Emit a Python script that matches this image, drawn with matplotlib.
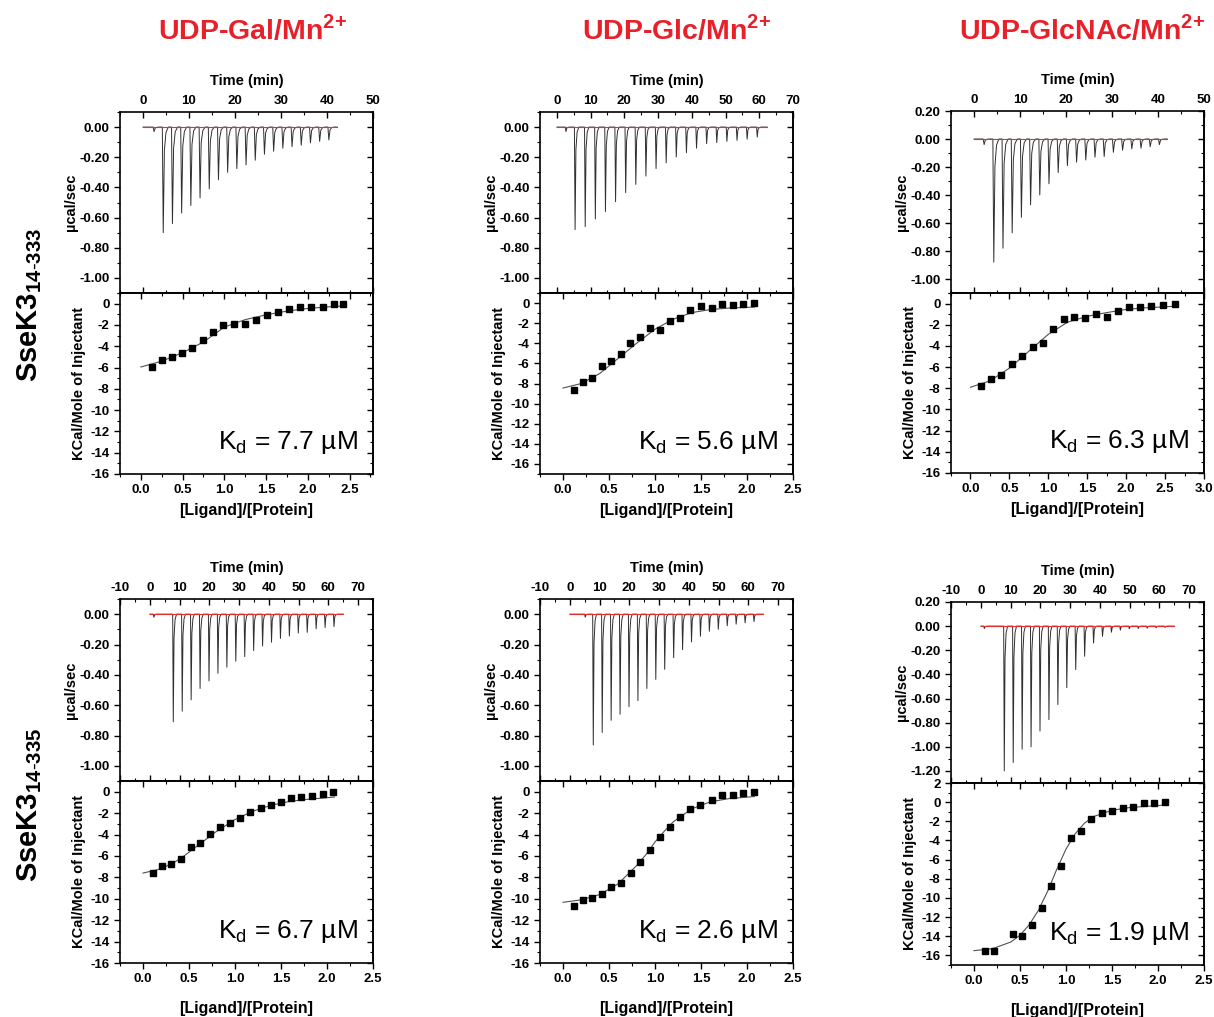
import matplotlib
matplotlib.use('Agg')
import matplotlib.pyplot as plt
from matplotlib.ticker import MultipleLocator, FormatStrFormatter

plt.rcParams['font.family'] = 'Liberation Sans'
plt.rcParams['font.weight'] = 'bold'
plt.rcParams['mathtext.fontset'] = 'custom'
plt.rcParams['mathtext.rm'] = 'Liberation Sans:normal'
plt.rcParams['mathtext.bf'] = 'Liberation Sans:bold'
plt.rcParams['axes.linewidth'] = 1.2
plt.rcParams['axes.unicode_minus'] = False

titles = ['UDP-Gal/Mn$^{\\mathbf{2{+}}}$', 'UDP-Glc/Mn$^{\\mathbf{2{+}}}$', 'UDP-GlcNAc/Mn$^{\\mathbf{2{+}}}$']
row_labels = ['SseK3$_{\\mathbf{14\\text{-}333}}$', 'SseK3$_{\\mathbf{14\\text{-}335}}$']
kd_labels = [['7.7', '5.6', '6.3'], ['6.7', '2.6', '1.9']]

# ---- raw thermograms: injection time (min) and peak depth (ucal/sec)
t_gal_333 = [2.2, 4.2, 6.2, 8.2, 10.2, 12.2, 14.2, 16.2, 18.2, 20.2, 22.2, 24.2, 26.2, 28.2, 30.2, 32.2, 34.2, 36.2, 38.2, 40.2]
d_gal_333 = [0.03, 0.70, 0.64, 0.57, 0.52, 0.47, 0.41, 0.35, 0.30, 0.275, 0.25, 0.22, 0.18, 0.16, 0.14, 0.13, 0.12, 0.105, 0.095, 0.085]
t_glc_333 = [2.5, 5.2, 8.2, 11.2, 14.2, 17.2, 20.2, 23.2, 26.2, 29.2, 32.2, 35.2, 38.2, 41.2, 44.2, 47.2, 50.2, 53.2, 56.2, 59.2]
d_glc_333 = [0.03, 0.68, 0.66, 0.61, 0.56, 0.495, 0.435, 0.38, 0.325, 0.275, 0.237, 0.198, 0.17, 0.14, 0.11, 0.103, 0.095, 0.088, 0.08, 0.066]
t_nac_333 = [2.0, 4.1, 6.1, 8.1, 10.1, 12.1, 14.1, 16.1, 18.1, 20.1, 22.1, 24.1, 26.1, 28.1, 30.1, 32.1, 34.1, 36.1, 38.1, 40.1]
d_nac_333 = [0.04, 0.88, 0.78, 0.67, 0.56, 0.47, 0.40, 0.32, 0.24, 0.19, 0.165, 0.15, 0.13, 0.125, 0.095, 0.08, 0.07, 0.065, 0.055, 0.04]
t_gal_335 = [1.2, 7.7, 10.7, 13.7, 16.7, 19.7, 22.7, 25.7, 28.7, 31.7, 34.7, 37.7, 40.7, 43.7, 46.7, 49.7, 52.7, 55.7, 58.7, 61.7]
d_gal_335 = [0.02, 0.71, 0.64, 0.565, 0.49, 0.44, 0.39, 0.35, 0.31, 0.28, 0.24, 0.21, 0.185, 0.16, 0.145, 0.125, 0.12, 0.097, 0.088, 0.082]
t_glc_335 = [5.0, 7.7, 10.7, 13.7, 16.7, 19.7, 22.7, 25.7, 28.7, 31.7, 34.7, 37.7, 40.7, 43.7, 46.7, 49.7, 52.7, 55.7, 58.7, 61.7]
d_glc_335 = [0.02, 0.863, 0.78, 0.70, 0.66, 0.61, 0.57, 0.49, 0.43, 0.364, 0.287, 0.234, 0.183, 0.146, 0.113, 0.10, 0.077, 0.066, 0.057, 0.049]
t_nac_335 = [1.0, 7.7, 10.7, 13.7, 16.7, 19.7, 22.7, 25.7, 28.7, 31.7, 34.7, 37.7, 40.7, 43.7, 46.7, 49.7, 52.7, 55.7, 58.7, 61.7]
d_nac_335 = [0.02, 1.20, 1.13, 1.02, 1.00, 0.87, 0.775, 0.65, 0.51, 0.36, 0.25, 0.14, 0.085, 0.05, 0.033, 0.022, 0.02, 0.017, 0.014, 0.011]

# ---- integrated heats: molar ratio and kcal/mol of injectant
x_gal_333 = [0.128, 0.248, 0.368, 0.492, 0.616, 0.74, 0.868, 0.988, 1.116, 1.248, 1.376, 1.508, 1.644, 1.776, 1.908, 2.04, 2.176, 2.316, 2.42]
y_gal_333 = [-5.95, -5.3, -5.0, -4.6, -4.2, -3.4, -2.7, -2.0, -1.9, -1.95, -1.5, -1.1, -0.75, -0.5, -0.35, -0.3, -0.3, 0.0, 0.0]
x_glc_333 = [0.115, 0.216, 0.317, 0.421, 0.525, 0.626, 0.730, 0.838, 0.946, 1.054, 1.165, 1.273, 1.385, 1.496, 1.619, 1.730, 1.845, 1.957, 2.076]
y_glc_333 = [-8.6, -7.88, -7.45, -6.29, -5.79, -5.03, -3.97, -3.41, -2.48, -2.68, -1.75, -1.49, -0.66, -0.26, -0.50, -0.07, -0.17, -0.07, 0.0]
x_nac_333 = [0.136, 0.268, 0.396, 0.528, 0.660, 0.800, 0.928, 1.064, 1.196, 1.328, 1.472, 1.609, 1.749, 1.889, 2.034, 2.179, 2.323, 2.468, 2.626]
y_nac_333 = [-7.81, -7.09, -6.78, -5.75, -4.97, -4.13, -3.75, -2.38, -1.44, -1.22, -1.38, -1.0, -1.31, -0.72, -0.31, -0.28, -0.25, -0.13, 0.0]
x_gal_335 = [0.108, 0.209, 0.309, 0.417, 0.518, 0.622, 0.727, 0.838, 0.942, 1.050, 1.158, 1.281, 1.396, 1.496, 1.612, 1.719, 1.838, 1.957, 2.068]
y_gal_335 = [-7.64, -6.96, -6.74, -6.24, -5.21, -4.77, -3.99, -3.31, -2.90, -2.46, -1.90, -1.53, -1.22, -0.94, -0.62, -0.53, -0.41, -0.25, -0.03]
x_glc_335 = [0.115, 0.212, 0.317, 0.421, 0.522, 0.626, 0.734, 0.838, 0.942, 1.054, 1.162, 1.273, 1.381, 1.493, 1.615, 1.730, 1.845, 1.957, 2.076]
y_glc_335 = [-10.70, -10.08, -9.89, -9.52, -8.89, -8.52, -7.58, -6.55, -5.46, -4.24, -3.28, -2.40, -1.59, -1.22, -0.75, -0.28, -0.34, -0.16, 0.0]
x_nac_335 = [0.115, 0.216, 0.421, 0.522, 0.626, 0.734, 0.838, 0.946, 1.058, 1.165, 1.273, 1.388, 1.496, 1.615, 1.730, 1.849, 1.960, 2.079]
y_nac_335 = [-15.59, -15.55, -13.80, -13.98, -12.86, -11.03, -8.72, -6.62, -3.75, -2.98, -1.75, -1.12, -0.95, -0.63, -0.53, -0.14, -0.14, 0.0]

# ---- fitted curves
fx_gal_333 = [0.0, 0.25, 0.5, 0.75, 1.0, 1.25, 1.5, 1.75, 2.0, 2.25, 2.45]
fy_gal_333 = [-5.95, -5.4, -4.6, -3.6, -2.2, -1.5, -1.05, -0.7, -0.45, -0.3, -0.2]
fx_glc_333 = [0.0, 0.2, 0.4, 0.6, 0.8, 1.0, 1.2, 1.4, 1.6, 1.8, 2.08]
fy_glc_333 = [-8.45, -8.0, -7.0, -5.5, -4.0, -2.6, -1.6, -0.95, -0.65, -0.5, -0.4]
fx_nac_333 = [0.0, 0.25, 0.5, 0.75, 1.0, 1.25, 1.5, 1.75, 2.0, 2.25, 2.5, 2.63]
fy_nac_333 = [-7.9, -7.3, -6.1, -4.5, -2.9, -1.75, -1.2, -0.85, -0.55, -0.4, -0.3, -0.25]
fx_gal_335 = [0.0, 0.2, 0.4, 0.6, 0.8, 1.0, 1.2, 1.4, 1.6, 1.8, 2.08]
fy_gal_335 = [-7.6, -7.2, -6.3, -5.0, -3.7, -2.6, -1.8, -1.25, -0.9, -0.7, -0.5]
fx_glc_335 = [0.0, 0.2, 0.4, 0.6, 0.8, 0.9, 1.0, 1.1, 1.2, 1.4, 1.6, 1.8, 2.08]
fy_glc_335 = [-10.33, -10.1, -9.6, -8.6, -6.9, -5.9, -4.7, -3.7, -2.8, -1.6, -0.95, -0.65, -0.45]
fx_nac_335 = [0.0, 0.2, 0.4, 0.5, 0.6, 0.7, 0.8, 0.9, 1.0, 1.1, 1.2, 1.3, 1.5, 1.7, 2.08]
fy_nac_335 = [-15.5, -15.3, -14.6, -13.9, -12.8, -11.3, -9.3, -7.0, -4.9, -3.3, -2.2, -1.5, -0.85, -0.55, -0.3]

panels = [
    [(t_gal_333, d_gal_333, x_gal_333, y_gal_333, fx_gal_333, fy_gal_333),
     (t_glc_333, d_glc_333, x_glc_333, y_glc_333, fx_glc_333, fy_glc_333),
     (t_nac_333, d_nac_333, x_nac_333, y_nac_333, fx_nac_333, fy_nac_333)],
    [(t_gal_335, d_gal_335, x_gal_335, y_gal_335, fx_gal_335, fy_gal_335),
     (t_glc_335, d_glc_335, x_glc_335, y_glc_335, fx_glc_335, fy_glc_335),
     (t_nac_335, d_nac_335, x_nac_335, y_nac_335, fx_nac_335, fy_nac_335)],
]

W, H = 1214, 1017
fig = plt.figure(figsize=(W / 100, H / 100), dpi=100)

col_x = [(120, 373), (540, 793), (951, 1204)]
# pixel rows: top of thermogram, boundary, bottom of isotherm
row_y = [[(112, 293, 474), (112, 293, 474), (111, 293, 473)],
         [(599, 781, 963), (599, 781, 963), (602, 783, 965)]]
time_lim = [[(-5, 50, 0, 50), (-5, 70, 0, 70), (-5, 50, 0, 50)],
            [(-10, 75, -10, 70), (-10, 75, -10, 70), (-10, 75, -10, 70)]]
raw_lim = [[(-1.1, 0.1, 0.0), (-1.1, 0.1, 0.0), (-1.1, 0.2, 0.2)],
           [(-1.1, 0.1, 0.0), (-1.1, 0.1, 0.0), (-1.3, 0.2, 0.2)]]
iso_ylim = [[(-16, 1, 0), (-17, 1, 0), (-16, 1, 0)],
            [(-16, 1, 0), (-16, 1, 0), (-17, 2, 2)]]
iso_xlim = [[(-0.25, 2.78, 2.5), (-0.25, 2.5, 2.5), (-0.25, 3.0, 3.0)],
            [(-0.25, 2.5, 2.5), (-0.25, 2.5, 2.5), (-0.25, 2.5, 2.5)]]
base_end = [[42.2, 62.3, 42.0], [65, 65, 65]]


def rect(x0, x1, y0, y1):
    return [x0 / W, 1 - y1 / H, (x1 - x0) / W, (y1 - y0) / H]


def spikes(times, depths, end):
    tt, yy = [0.0], [0.0]
    for ti, d in zip(times, depths):
        tt += [ti, ti + 0.2, ti + 0.45, ti + 0.8, ti + 1.3]
        yy += [0.0, -d, -0.22 * d, -0.05 * d, 0.0]
    tt.append(end)
    yy.append(0.0)
    return tt, yy


def style(ax):
    ax.tick_params(which='major', length=4, width=1.0, labelsize=9.5)
    ax.tick_params(which='minor', length=2.5, width=0.8)
    for lab in ax.get_xticklabels() + ax.get_yticklabels():
        lab.set_fontweight('bold')


def inner_ticks(sec, axis):
    sec.tick_params(axis=axis, which='both', direction='in', labelright=False, labeltop=False)
    sec.tick_params(which='major', length=4, width=1.0)
    sec.tick_params(which='minor', length=2.5, width=0.8)


for r in range(2):
    for c in range(3):
        tms, dep, xs, ys, fx, fy = panels[r][c]
        x0, x1 = col_x[c]
        y0, yb, y1 = row_y[r][c]

        # thermogram
        a1 = fig.add_axes(rect(x0, x1, y0, yb))
        tt, yy = spikes(tms, dep, base_end[r][c])
        a1.plot(tt, yy, color='#303030', lw=0.7)
        a1.plot([0, base_end[r][c]], [0, 0], color='#e03030', lw=0.8)
        tl = time_lim[r][c]
        a1.set_xlim(tl[0], tl[1])
        a1.set_xticks(range(tl[2], tl[3] + 1, 10))
        a1.xaxis.set_minor_locator(MultipleLocator(5))
        a1.xaxis.set_ticks_position('both')
        a1.tick_params(axis='x', which='both', direction='in', labeltop=True, labelbottom=False)
        a1.xaxis.set_label_position('top')
        a1.set_xlabel('Time (min)', fontsize=10.5, fontweight='bold', labelpad=7)
        rl = raw_lim[r][c]
        a1.set_ylim(rl[0], rl[1])
        ticks = []
        v = rl[2]
        while v >= rl[0] + 0.05:
            ticks.append(round(v, 2))
            v -= 0.2
        a1.set_yticks(ticks)
        a1.yaxis.set_minor_locator(MultipleLocator(0.1))
        a1.yaxis.set_major_formatter(FormatStrFormatter('%.2f'))
        a1.tick_params(axis='y', which='both', direction='out')
        s1 = a1.secondary_yaxis('right')
        s1.set_yticks(ticks)
        s1.yaxis.set_minor_locator(MultipleLocator(0.1))
        inner_ticks(s1, 'y')
        a1.set_ylabel('\u00b5cal/sec', fontsize=10.5, fontweight='bold')
        a1.yaxis.set_label_coords(-0.165, 0.5)
        style(a1)

        # isotherm
        a2 = fig.add_axes(rect(x0, x1, yb, y1))
        a2.plot(fx, fy, color='#505050', lw=0.8)
        a2.plot(xs, ys, 's', color='black', ms=5)
        xl = iso_xlim[r][c]
        a2.set_xlim(xl[0], xl[1])
        xt = [i * 0.5 for i in range(int(round(xl[2] / 0.5)) + 1)]
        a2.set_xticks(xt)
        a2.xaxis.set_minor_locator(MultipleLocator(0.25))
        a2.xaxis.set_major_formatter(FormatStrFormatter('%.1f'))
        a2.tick_params(axis='x', which='both', direction='out')
        s2 = a2.secondary_xaxis('top')
        s2.set_xticks(xt)
        s2.xaxis.set_minor_locator(MultipleLocator(0.25))
        inner_ticks(s2, 'x')
        il = iso_ylim[r][c]
        a2.set_ylim(il[0], il[1])
        yt = list(range(-16, il[2] + 1, 2))
        a2.set_yticks(yt)
        a2.yaxis.set_minor_locator(MultipleLocator(1))
        a2.tick_params(axis='y', which='both', direction='out')
        s3 = a2.secondary_yaxis('right')
        s3.set_yticks(yt)
        s3.yaxis.set_minor_locator(MultipleLocator(1))
        inner_ticks(s3, 'y')
        a2.set_xlabel('[Ligand]/[Protein]', fontsize=11.5, fontweight='bold',
                      labelpad=5 if r == 0 else 11)
        a2.set_ylabel('KCal/Mole of Injectant', fontsize=10.5, fontweight='bold')
        a2.yaxis.set_label_coords(-0.135, 0.5)
        a2.text(0.94, 0.14, 'K$_{\\rm d}$ = ' + kd_labels[r][c] + ' \u00b5M', transform=a2.transAxes,
                ha='right', va='baseline', fontsize=19, fontweight='normal')
        style(a2)

for c in range(3):
    cx = [252, 676, 1082][c]
    fig.text(cx / W, 1 - 30 / H, titles[c], color='#e8202a', fontsize=20.5,
             fontweight='bold', ha='center', va='center')

for r in range(2):
    fig.text(30 / W, 1 - [305, 805][r] / H, row_labels[r], rotation=90, fontsize=21,
             fontweight='bold', ha='center', va='center')

fig.savefig('out.png', dpi=100)
